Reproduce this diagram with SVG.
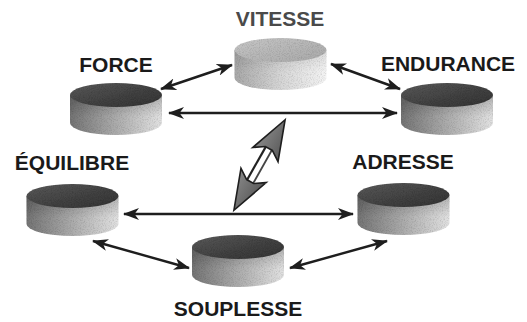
<svg xmlns="http://www.w3.org/2000/svg" xmlns:xlink="http://www.w3.org/1999/xlink" width="527" height="322" viewBox="0 0 527 322">
  <style>
    .label { font-family: "Liberation Sans", Arial, sans-serif; font-weight: bold; font-size: 21px; fill: #1a1a1a; text-anchor: middle; }
    .label.light { fill: #4a4a4a; }
    .link { stroke: #1e1e1e; stroke-width: 2.4; fill: none; marker-start: url(#head); marker-end: url(#head); }
  </style>
  <defs>
    <!-- dark puck -->
    <linearGradient id="sideDark" x1="0" y1="0" x2="1" y2="0">
      <stop offset="0" stop-color="#747474"/>
      <stop offset="0.45" stop-color="#a6a6a6"/>
      <stop offset="1" stop-color="#e2e2e2"/>
    </linearGradient>
    <linearGradient id="topDark" x1="0" y1="0" x2="1" y2="1">
      <stop offset="0" stop-color="#5a5a5a"/>
      <stop offset="0.6" stop-color="#404040"/>
      <stop offset="1" stop-color="#333"/>
    </linearGradient>
    <!-- light puck -->
    <linearGradient id="sideLight" x1="0" y1="0" x2="1" y2="0">
      <stop offset="0" stop-color="#a8a8a8"/>
      <stop offset="0.5" stop-color="#d6d6d6"/>
      <stop offset="1" stop-color="#f4f4f4"/>
    </linearGradient>
    <linearGradient id="topLight" x1="0" y1="0" x2="1" y2="1">
      <stop offset="0" stop-color="#c6c6c6"/>
      <stop offset="1" stop-color="#a8a8a8"/>
    </linearGradient>
    <!-- shading under the rim -->
    <linearGradient id="rimShade" x1="0" y1="0" x2="0" y2="1">
      <stop offset="0" stop-color="#000" stop-opacity="0.22"/>
      <stop offset="0.55" stop-color="#000" stop-opacity="0"/>
    </linearGradient>
    <linearGradient id="bigHead" x1="0" y1="-1" x2="0" y2="1" gradientUnits="objectBoundingBox">
      <stop offset="0" stop-color="#b4b4b4"/>
      <stop offset="1" stop-color="#5a5a5a"/>
    </linearGradient>

    <filter id="grain" x="0" y="0" width="100%" height="100%">
      <feTurbulence type="fractalNoise" baseFrequency="0.9" numOctaves="2" seed="4" result="noise"/>
      <feColorMatrix in="noise" type="matrix" values="0 0 0 0 0  0 0 0 0 0  0 0 0 0 0  0.6 0 0 0 -0.26" result="speck"/>
      <feComposite in="speck" in2="SourceGraphic" operator="in" result="speckIn"/>
      <feMerge><feMergeNode in="SourceGraphic"/><feMergeNode in="speckIn"/></feMerge>
    </filter>

    <g id="puckDark">
      <path d="M-46,0 V28 A46 12 0 0 0 46,28 V0 Z" fill="url(#sideDark)"/>
      <path d="M-46,0 V28 A46 12 0 0 0 46,28 V0 Z" fill="url(#rimShade)"/>
      <ellipse cx="0" cy="0" rx="46" ry="12" fill="url(#topDark)"/>
    </g>
    <g id="puckLight">
      <path d="M-46,0 V28 A46 12 0 0 0 46,28 V0 Z" fill="url(#sideLight)"/>
      <path d="M-46,0 V28 A46 12 0 0 0 46,28 V0 Z" fill="url(#rimShade)" opacity="0.5"/>
      <ellipse cx="0" cy="0" rx="46" ry="12" fill="url(#topLight)"/>
    </g>

    <marker id="head" viewBox="0 0 16 12" refX="15" refY="6" markerWidth="16" markerHeight="12" markerUnits="userSpaceOnUse" orient="auto-start-reverse">
      <path d="M0,0 L16,6 L0,12 L4.5,6 Z" fill="#1e1e1e"/>
    </marker>

    <path id="bigArrowHead" d="M52,0 L12,-14.5 L19,-4 L19,4 L12,14.5 Z"/>
  </defs>

  <!-- connectors -->
  <g id="connectors">
    <line class="link" x1="161" y1="89" x2="232" y2="65"/>
    <line class="link" x1="331" y1="64" x2="400" y2="89"/>
    <line class="link" x1="169" y1="113" x2="397" y2="113"/>
    <line class="link" x1="124" y1="214" x2="353" y2="214"/>
    <line class="link" x1="93" y1="241" x2="189" y2="268"/>
    <line class="link" x1="290" y1="268" x2="387" y2="241"/>

    <!-- central two-way arrow -->
    <g id="interaction" transform="translate(259.5,165) rotate(-60.5)">
      <rect x="-20" y="-4" width="40" height="8" fill="#fff"/>
      <line x1="-20" y1="-3.5" x2="20" y2="-3.5" stroke="#222" stroke-width="2.2"/>
      <line x1="-20" y1="3.5" x2="20" y2="3.5" stroke="#444" stroke-width="1.8"/>
      <use href="#bigArrowHead" fill="url(#bigHead)" stroke="#1e1e1e" stroke-width="1.6" stroke-linejoin="miter"/>
      <use href="#bigArrowHead" transform="scale(-1,1)" fill="url(#bigHead)" stroke="#1e1e1e" stroke-width="1.6" stroke-linejoin="miter"/>
    </g>
  </g>

  <!-- nodes -->
  <g id="vitesse">
    <use href="#puckLight" transform="translate(280.5,50)" filter="url(#grain)"/>
    <text class="label light" x="280" y="26">VITESSE</text>
  </g>
  <g id="force">
    <use href="#puckDark" transform="translate(116,95)" filter="url(#grain)"/>
    <text class="label" x="116" y="72">FORCE</text>
  </g>
  <g id="endurance">
    <use href="#puckDark" transform="translate(447,95)" filter="url(#grain)"/>
    <text class="label" x="448" y="71">ENDURANCE</text>
  </g>
  <g id="equilibre">
    <use href="#puckDark" transform="translate(72.5,196)" filter="url(#grain)"/>
    <text class="label" x="72" y="170">ÉQUILIBRE</text>
  </g>
  <g id="adresse">
    <use href="#puckDark" transform="translate(403.5,195)" filter="url(#grain)"/>
    <text class="label" x="403" y="169">ADRESSE</text>
  </g>
  <g id="souplesse">
    <use href="#puckDark" transform="translate(238,247)" filter="url(#grain)"/>
    <text class="label" x="238" y="316">SOUPLESSE</text>
  </g>
</svg>
